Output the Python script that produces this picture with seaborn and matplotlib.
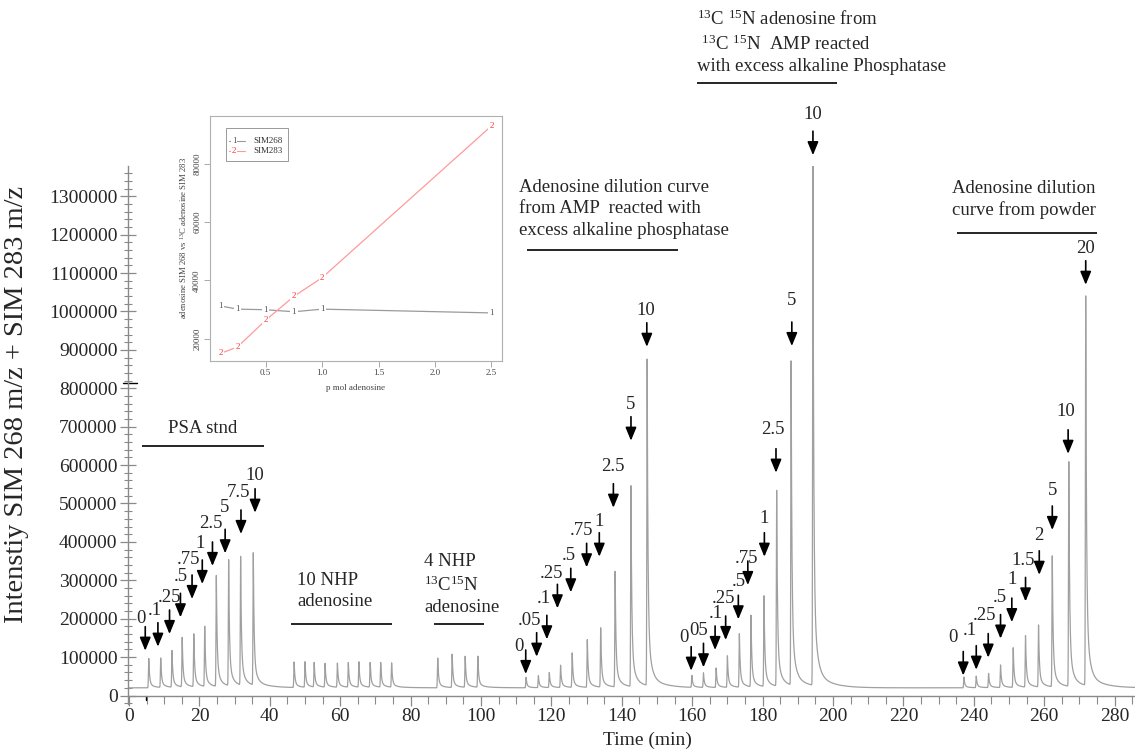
import numpy as np
import pandas as pd
import matplotlib
matplotlib.use("Agg")
import matplotlib.pyplot as plt
import seaborn as sns
from matplotlib.ticker import MultipleLocator, FixedLocator
from matplotlib.patches import Rectangle
import matplotlib.transforms as mtransforms

# ---------------- data ----------------
baseline = 20000
psa_t = [5.6, 9.0, 12.2, 15.1, 18.4, 21.5, 24.8, 28.3, 31.7, 35.3]
psa_h = [97000, 97000, 116000, 149000, 158000, 177000, 309000, 348000, 355000, 364000]
nhp10_t = [46.9, 50.0, 52.6, 55.7, 59.2, 62.3, 65.3, 68.5, 71.5, 74.6]
nhp10_h = [87000, 87000, 84000, 82000, 83000, 84000, 86000, 84000, 84000, 83000]
nhp4_t = [87.7, 91.8, 95.5, 99.1]
nhp4_h = [98000, 107000, 101000, 101000]
amp_t = [112.8, 116.3, 119.4, 122.6, 125.9, 130.2, 134.0, 138.1, 142.6, 147.2]
amp_h = [47000, 51000, 59000, 78000, 110000, 145000, 175000, 322000, 544000, 871000]
lab_t = [159.9, 163.2, 166.8, 170.0, 173.4, 176.7, 180.4, 184.0, 188.1, 194.3]
lab_h = [51000, 58000, 71000, 103000, 160000, 207000, 257000, 531000, 865000, 1385000]
pow_t = [237.2, 240.7, 244.2, 247.6, 251.2, 254.7, 258.4, 262.3, 267.0, 271.8]
pow_h = [48000, 50000, 57000, 79000, 124000, 155000, 182000, 362000, 606000, 1035000]

# arrow annotations: label, time of arrow, level of arrow tip
psa_lbl = ['0', '.1', '.25', '.5', '.75', '1', '2.5', '5', '7.5', '10']
psa_at = [4.6, 8.2, 11.5, 14.6, 17.9, 20.8, 23.7, 27.3, 31.8, 35.8]
psa_tip = [116700, 127100, 160100, 203600, 251300, 290400, 337300, 370300, 420600, 476000]
amp_lbl = ['0', '.05', '.1', '.25', '.5', '.75', '1', '2.5', '5', '10']
amp_at = [112.7, 115.8, 118.7, 121.7, 125.5, 130.0, 133.6, 137.6, 142.6, 147.1]
amp_tip = [56000, 101000, 146300, 227000, 268700, 333800, 361400, 489000, 663500, 908000]
lab_lbl = ['0', '05', '.1', '.25', '.5', '.75', '1', '2.5', '5', '10']
lab_at = [159.7, 163.2, 166.5, 169.5, 173.1, 175.8, 180.5, 183.8, 188.3, 194.3]
lab_tip = [64600, 73400, 118500, 144500, 198400, 287700, 361400, 580200, 910000, 1407000]
pow_lbl = ['0', '.1', '.25', '.5', '1', '1.5', '2', '5', '10', '20']
pow_at = [237.0, 240.7, 244.1, 247.6, 250.8, 254.7, 258.6, 262.3, 266.8, 271.8]
pow_tip = [52100, 67200, 98700, 148200, 191100, 245000, 314300, 431000, 629400, 1069500]

# label placement relative to the arrow tip (pixels: right, up)
psa_ldx = [-4.6, -3.4, 0, 0, -3.7, -2.3, -1.3, -0.7, -2.7, 0]
psa_ldy = [32.4, 36.7, 36.7, 40.6, 40, 40.7, 42, 46, 41.3, 37.7]
amp_ldx = [-6.4, -7.4, -2.7, -5.6, -2.4, -5, 0, 0, 0, -1]
amp_ldy = [27.3, 36.7, 41, 35, 37.3, 36.6, 35, 41, 36.7, 36.7]
lab_ldx = [-7, -5, 1, -2.4, 0, -1.7, 0, -3.3, 0, 0]
lab_ldy = [33.4, 37.3, 36.7, 41.7, 37.6, 26.7, 38.4, 42.7, 46, 41]
pow_ldx = [-10, -6.3, -3.3, -0.7, 0, -2.4, 0, 0, -2.3, 0]
pow_ldy = [37.9, 39, 42.4, 40.7, 43.1, 41.4, 38.9, 39.7, 42.1, 35.8]

# group captions and bars
grp_text = ["PSA stnd",
            "10 NHP\nadenosine",
            "4 NHP\n$^{13}$C$^{15}$N\nadenosine",
            "Adenosine dilution curve\nfrom AMP  reacted with\nexcess alkaline phosphatase",
            "$^{13}$C $^{15}$N adenosine from\n $^{13}$C $^{15}$N  AMP reacted\nwith excess alkaline Phosphatase",
            "Adenosine dilution\ncurve from powder"]
grp_text_t = [20.9, 47.7, 83.8, 110.8, 161.4, 254.3]
grp_text_v = [695800, 272000, 289000, 1267000, 1701000, 1292000]
grp_text_ha = ['center', 'left', 'left', 'left', 'left', 'center']
bar_t0 = [3.6, 45.9, 86.6, 113.1, 161.4, 235.2]
bar_t1 = [38.4, 74.6, 100.9, 156.0, 201.1, 275.0]
bar_v = [650500, 186000, 186000, 1160000, 1595000, 1204000]

# inset calibration data
inset_x = [0.1, 0.25, 0.5, 0.75, 1.0, 2.5]
sim268 = [31200, 30100, 29900, 29200, 30100, 28800]
sim283 = [14900, 17100, 26300, 34500, 40900, 93000]

# ---------------- build trace from the peak list ----------------
all_t = psa_t + nhp10_t + nhp4_t + amp_t + lab_t + pow_t
all_h = psa_h + nhp10_h + nhp4_h + amp_h + lab_h + pow_h
t = np.linspace(0, 285.8, 20000)
sig = np.full_like(t, float(baseline))
for tp, hp in zip(all_t, all_h):
    A = hp - baseline
    d = t - tp
    pre = np.exp(-0.5 * (d / 0.09) ** 2)
    post = 0.80 * np.exp(-d / 0.22) + 0.17 * np.exp(-d / 0.9) + 0.03 * np.exp(-d / 4.0)
    post = np.where(d >= 0, post, 0)
    sig += A * np.where(d < 0, pre, post)
trace = pd.DataFrame({"time": t, "intensity": sig})

# ---------------- style ----------------
sns.set_style("ticks")
plt.rcParams["font.family"] = ["Liberation Serif", "DejaVu Serif"]
plt.rcParams["mathtext.fontset"] = "custom"
plt.rcParams["mathtext.rm"] = "Liberation Serif"
plt.rcParams["mathtext.it"] = "Liberation Serif:italic"
plt.rcParams["mathtext.bf"] = "Liberation Serif:bold"

W, H = 1135, 749
fig = plt.figure(figsize=(W / 100, H / 100), dpi=100)
ax = fig.add_axes([128 / W, (H - 704) / H, (W - 128) / W, (704 - 166) / H])

sns.lineplot(data=trace, x="time", y="intensity", ax=ax, color="#a0a0a0",
             linewidth=0.9, estimator=None, sort=False)

ax.set_xlim(-0.3, 285.8)
ax.set_ylim(-22100, 1378800)
axis_col = "#8a8a8a"
for s in ["top", "right"]:
    ax.spines[s].set_visible(False)
ax.spines["bottom"].set_position(("data", 0))
for s in ["left", "bottom"]:
    ax.spines[s].set_color(axis_col)
    ax.spines[s].set_linewidth(1.0)

ax.xaxis.set_major_locator(MultipleLocator(20))
ax.xaxis.set_minor_locator(MultipleLocator(5))
ax.yaxis.set_minor_locator(MultipleLocator(20000))
ax.set_yticks(np.arange(0, 1300001, 100000))
ax.set_yticklabels([str(v) for v in range(0, 1300001, 100000)])
ax.tick_params(axis="y", which="major", direction="inout", length=11, width=0.9,
               color=axis_col, labelsize=14, pad=2)
ax.tick_params(axis="y", which="minor", direction="inout", length=6, width=0.8, color=axis_col)
ax.tick_params(axis="x", which="major", direction="out", length=7, width=0.9,
               color=axis_col, labelsize=14, pad=2)
ax.tick_params(axis="x", which="minor", direction="out", length=6, width=0.8, color=axis_col)

ax.set_xlabel("Time (min)", fontsize=14)
ax.xaxis.set_label_coords((647 - 128) / (W - 128), (704 - 732) / (704 - 166))
ax.set_ylabel("Intenstiy SIM 268 m/z + SIM 283 m/z", fontsize=20.5)
ax.yaxis.set_label_coords((29 - 128) / (W - 128), 0.556)

# stray black marks present in the original trace image
trans_y = mtransforms.blended_transform_factory(ax.transAxes, ax.transData)
ax.plot([-0.005, 0.009], [815000, 815000], transform=trans_y, color="black", lw=1.0,
        clip_on=False)
ax.plot([4.8, 4.8], [0, -12000], color="black", lw=1.0, clip_on=False)

# arrows + labels
fs = 13.5
groups = [(psa_lbl, psa_at, psa_tip, psa_ldx, psa_ldy),
          (amp_lbl, amp_at, amp_tip, amp_ldx, amp_ldy),
          (lab_lbl, lab_at, lab_tip, lab_ldx, lab_ldy),
          (pow_lbl, pow_at, pow_tip, pow_ldx, pow_ldy)]
for lbls, ats, tips, ldx, ldy in groups:
    for lb, a, tp, dx, dy in zip(lbls, ats, tips, ldx, ldy):
        ax.annotate("", xy=(a, tp), xytext=(0, 24), textcoords="offset pixels",
                    arrowprops=dict(arrowstyle="-|>,head_length=0.8,head_width=0.33",
                                    color="black", lw=1.2, shrinkA=0, shrinkB=0,
                                    mutation_scale=10),
                    annotation_clip=False)
        ax.annotate(lb, xy=(a, tp), xytext=(dx, dy), textcoords="offset pixels",
                    ha="center", va="center", fontsize=fs, annotation_clip=False)

for txt, tx, tv, ha in zip(grp_text, grp_text_t, grp_text_v, grp_text_ha):
    ax.text(tx, tv, txt, ha=ha, va="center", multialignment=ha, fontsize=fs,
            linespacing=1.33, clip_on=False)
for a0, a1, v in zip(bar_t0, bar_t1, bar_v):
    ax.plot([a0, a1], [v, v], color="black", lw=1.2, clip_on=False,
            solid_capstyle="butt")

# ---------------- inset ----------------
ax2 = fig.add_axes([209.7 / W, (H - 361) / H, 292.6 / W, 245.3 / H])
inset = pd.DataFrame({
    "pmol": inset_x * 2,
    "value": sim268 + sim283,
    "series": ["SIM268"] * len(inset_x) + ["SIM283"] * len(inset_x),
})
pal = {"SIM268": "#9a9a9a", "SIM283": "#ff9a9a"}
sns.lineplot(data=inset, x="pmol", y="value", hue="series", palette=pal,
             ax=ax2, legend=False, linewidth=0.9, estimator=None, sort=False)
for xv, yv in zip(inset_x, sim268):
    ax2.text(xv, yv, "1", ha="center", va="center", fontsize=6.5, color="#555555",
             bbox=dict(boxstyle="square,pad=0.15", fc="white", ec="none"))
for xv, yv in zip(inset_x, sim283):
    ax2.text(xv, yv, "2", ha="center", va="center", fontsize=6.5, color="#ff3030",
             bbox=dict(boxstyle="square,pad=0.15", fc="white", ec="none"))
ax2.set_xlim(0.004, 2.596)
ax2.set_ylim(12300, 96500)
ax2.xaxis.set_major_locator(FixedLocator([0.5, 1.0, 1.5, 2.0, 2.5]))
ax2.yaxis.set_major_locator(FixedLocator([20000, 40000, 60000, 80000]))
ax2.set_xticklabels(["0.5", "1.0", "1.5", "2.0", "2.5"])
ax2.set_yticklabels(["20000", "40000", "60000", "80000"], rotation=90, va="center")
ax2.tick_params(labelsize=6.5, labelcolor="#444444", color="#aaaaaa", length=4, width=0.7, pad=2)
for s in ax2.spines.values():
    s.set_color("#b0b0b0")
    s.set_linewidth(0.8)
ax2.set_xlabel("p mol adenosine", fontsize=6.5, color="#444444", labelpad=5)
ax2.set_ylabel("adenosine SIM 268 vs $^{13}$C adenosine SIM 283", fontsize=6.2,
               color="#444444", labelpad=3)
# legend box
ax2.add_patch(Rectangle((0.056, 0.815), 0.213, 0.134, transform=ax2.transAxes,
                        fill=False, ec="#999999", lw=0.7))
for yy, num, name, lc, tc in [(0.898, "1", "SIM268", "#9a9a9a", "#555555"),
                              (0.857, "2", "SIM283", "#ff9a9a", "#ff3030")]:
    ax2.plot([0.067, 0.12], [yy, yy], transform=ax2.transAxes, color=lc, lw=0.8)
    ax2.text(0.083, yy, num, transform=ax2.transAxes, ha="center", va="center",
             fontsize=6.5, color=tc,
             bbox=dict(boxstyle="square,pad=0.1", fc="white", ec="none"))
    ax2.text(0.148, yy, name, transform=ax2.transAxes, ha="left", va="center",
             fontsize=6.5, color="#333333")

fig.savefig("out.png", dpi=100)
